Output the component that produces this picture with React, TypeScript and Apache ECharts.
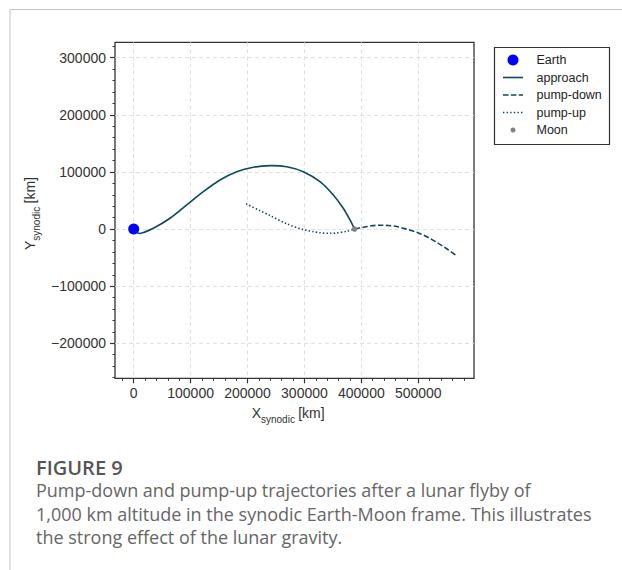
import React, { useEffect, useRef } from "react";
import * as echarts from "echarts";

// Trajectory samples in the synodic Earth-Moon frame, [x km, y km]
const APPROACH: [number, number][] = [
  [4000, -5000], [11000, -7700], [34400, 1400], [63800, 18900], [93100, 42200],
  [122300, 65500], [151600, 86000], [181000, 100500], [210100, 108200],
  [239400, 111000], [268800, 109200], [298000, 100500], [327300, 83000],
  [350700, 59700], [368200, 36400], [380000, 15900], [388000, 0],
];
const PUMP_DOWN: [number, number][] = [
  [388000, 0], [403500, 3200], [418000, 5800], [432900, 6700], [448000, 6200],
  [462200, 4400], [480000, -300], [497400, -5600], [515000, -13500],
  [532500, -23200], [550000, -34500], [568000, -47000],
];
const PUMP_UP: [number, number][] = [
  [197400, 44300], [220000, 33000], [239500, 23700], [268900, 9100],
  [298000, -900], [315600, -4600], [327400, -6500], [345000, -7400],
  [356700, -6800], [374000, -4000], [388000, 0],
];
const EARTH: [number, number][] = [[0, 0]];
const MOON: [number, number][] = [[388000, 0]];

// Axis extents and tick values
const X_MIN = -32850;
const X_MAX = 597900;
const Y_MIN = -261300;
const Y_MAX = 327000;
const X_TICKS = [0, 100000, 200000, 300000, 400000, 500000];
const Y_TICKS = [-200000, -100000, 0, 100000, 200000, 300000];
const X_MINOR = [-20000, 20000, 40000, 60000, 80000, 120000, 140000, 160000, 180000,
  220000, 240000, 260000, 280000, 320000, 340000, 360000, 380000, 420000, 440000,
  460000, 480000, 520000, 540000, 560000, 580000];
const Y_MINOR = [-260000, -240000, -220000, -180000, -160000, -140000, -120000,
  -80000, -60000, -40000, -20000, 20000, 40000, 60000, 80000, 120000, 140000,
  160000, 180000, 220000, 240000, 260000, 280000, 320000];

const LEGEND_NAMES = ["Earth", "approach", "pump-down", "pump-up", "Moon"];
const CAPTION_TITLE = "FIGURE 9";
const CAPTION_LINES = [
  "Pump-down and pump-up trajectories after a lunar flyby of",
  "1,000 km altitude in the synodic Earth-Moon frame. This illustrates",
  "the strong effect of the lunar gravity.",
];

const TRAJ = "#0b4a5e";
const INK = "#333333";
const FONT = "Liberation Sans, Arial, sans-serif";
const DASHED = [5.5, 2.4];
const DOTTED = [1.4, 2.2];

const fmt = (v: number) => (v < 0 ? "\u2212" + Math.abs(v) : String(v));

// A trajectory drawn as one smooth curve through its samples, mapped by the axes
function trajectory(name: string, data: [number, number][], dash?: number[]) {
  return {
    name,
    type: "custom",
    data,
    z: 3,
    renderItem: (params: any, api: any) => {
      if (params.dataIndex !== 0) return null;
      const points = data.map((p) => api.coord(p));
      return {
        type: "polyline",
        shape: { points, smooth: 0.3 },
        style: { stroke: TRAJ, lineWidth: 1.6, fill: "none", lineDash: dash || null },
      };
    },
  };
}

export default function App() {
  const ref = useRef<HTMLDivElement>(null);

  useEffect(() => {
    if (!ref.current) return;
    const chart = echarts.init(ref.current, undefined, { renderer: "svg" });

    const axisCommon = {
      type: "value" as const,
      axisLine: { show: false, onZero: false },
    };

    // legend drawn as a framed box at the upper right
    const lx = 494.5, ly = 47.5;
    const rowY = (i: number) => 60 + i * 17.5;
    const legend: any[] = [
      { type: "rect", shape: { x: lx, y: ly, width: 115, height: 97 }, style: { fill: "#fff", stroke: INK, lineWidth: 1.2 } },
      { type: "circle", shape: { cx: 513, cy: rowY(0), r: 5.5 }, style: { fill: "#0000ff" } },
      { type: "line", shape: { x1: 503, y1: rowY(1), x2: 523, y2: rowY(1) }, style: { stroke: TRAJ, lineWidth: 1.6 } },
      { type: "line", shape: { x1: 503, y1: rowY(2), x2: 523, y2: rowY(2) }, style: { stroke: TRAJ, lineWidth: 1.6, lineDash: DASHED } },
      { type: "line", shape: { x1: 503, y1: rowY(3), x2: 523, y2: rowY(3) }, style: { stroke: TRAJ, lineWidth: 1.6, lineDash: DOTTED } },
      { type: "circle", shape: { cx: 513, cy: rowY(4), r: 2.5 }, style: { fill: "#808080" } },
      ...LEGEND_NAMES.map((n, i) => ({
        type: "text", x: 536.5, y: rowY(i),
        style: { text: n, font: `12.5px ${FONT}`, fill: "#222", verticalAlign: "middle", align: "left" },
      })),
    ];

    // axis titles with subscripts
    const xTitle: any[] = [
      { type: "text", x: 251.7, y: 413.4, style: { text: "X", font: `14px ${FONT}`, fill: INK, verticalAlign: "middle" } },
      { type: "text", x: 261.0, y: 419.6, style: { text: "synodic", font: `10px ${FONT}`, fill: INK, verticalAlign: "middle" } },
      { type: "text", x: 294.3, y: 413.4, style: { text: " [km]", font: `14px ${FONT}`, fill: INK, verticalAlign: "middle" } },
    ];
    const yTitle = {
      type: "group", x: 30, y: 211, rotation: Math.PI / 2,
      children: [
        { type: "text", x: -39, y: 0, style: { text: "Y", font: `14px ${FONT}`, fill: INK, verticalAlign: "middle" } },
        { type: "text", x: -29.7, y: 6.2, style: { text: "synodic", font: `10px ${FONT}`, fill: INK, verticalAlign: "middle" } },
        { type: "text", x: 3.6, y: 0, style: { text: " [km]", font: `14px ${FONT}`, fill: INK, verticalAlign: "middle" } },
      ],
    };

    const caption: any[] = [
      { type: "text", x: 36, y: 467, style: { text: CAPTION_TITLE, font: `600 20px "Open Sans", sans-serif`, fill: "#555", verticalAlign: "middle" } },
      ...CAPTION_LINES.map((t, i) => ({
        type: "text", x: 36, y: 490 + i * 23.5,
        style: { text: t, font: `18px "Open Sans", sans-serif`, fill: "#666", verticalAlign: "middle" },
      })),
    ];

    const frame = {
      type: "polyline",
      shape: { points: [[10, 570], [10, 9.5], [622, 9.5]] },
      style: { stroke: "#c4c4c4", lineWidth: 1, fill: "none" },
    };

    chart.setOption({
      animation: false,
      backgroundColor: "#fff",
      grid: {
        left: 115, top: 42.3, width: 359, height: 336,
        show: true, borderColor: INK, borderWidth: 1.3, backgroundColor: "transparent",
      },
      xAxis: [
        {
          ...axisCommon, min: X_MIN, max: X_MAX, position: "bottom",
          axisTick: { show: true, length: 5, customValues: X_TICKS, lineStyle: { color: INK, width: 1.2 } },
          axisLabel: { customValues: X_TICKS, formatter: fmt, margin: 8, color: INK, fontSize: 14, fontFamily: FONT },
          splitLine: { show: true, lineStyle: { color: "#dcdcdc", width: 0.9, type: [4, 3] } },
        },
        {
          ...axisCommon, min: X_MIN, max: X_MAX, position: "bottom",
          axisTick: { show: true, length: 2.5, customValues: X_MINOR, lineStyle: { color: INK, width: 1 } },
          axisLabel: { show: false }, splitLine: { show: false },
        },
      ],
      yAxis: [
        {
          ...axisCommon, min: Y_MIN, max: Y_MAX, position: "left",
          axisTick: { show: true, length: 5, customValues: Y_TICKS, lineStyle: { color: INK, width: 1.2 } },
          axisLabel: { customValues: Y_TICKS, formatter: fmt, margin: 9, color: INK, fontSize: 14, fontFamily: FONT },
          splitLine: { show: true, lineStyle: { color: "#dcdcdc", width: 0.9, type: [4, 3] } },
        },
        {
          ...axisCommon, min: Y_MIN, max: Y_MAX, position: "left",
          axisTick: { show: true, length: 2.5, customValues: Y_MINOR, lineStyle: { color: INK, width: 1 } },
          axisLabel: { show: false }, splitLine: { show: false },
        },
      ],
      series: [
        trajectory("approach", APPROACH),
        trajectory("pump-down", PUMP_DOWN, DASHED),
        trajectory("pump-up", PUMP_UP, DOTTED),
        {
          name: "Earth", type: "scatter", data: EARTH, symbolSize: 11,
          itemStyle: { color: "#0000ff", opacity: 1 }, z: 5,
        },
        {
          name: "Moon", type: "scatter", data: MOON, symbolSize: 5.5,
          itemStyle: { color: "#808080", opacity: 1 }, z: 5,
        },
      ],
      graphic: [frame, ...legend, ...xTitle, yTitle, ...caption],
    });

    return () => chart.dispose();
  }, []);

  return (
    <div
      ref={ref}
      style={{ position: "absolute", left: 0, top: 0, width: 622, height: 570 }}
    />
  );
}
